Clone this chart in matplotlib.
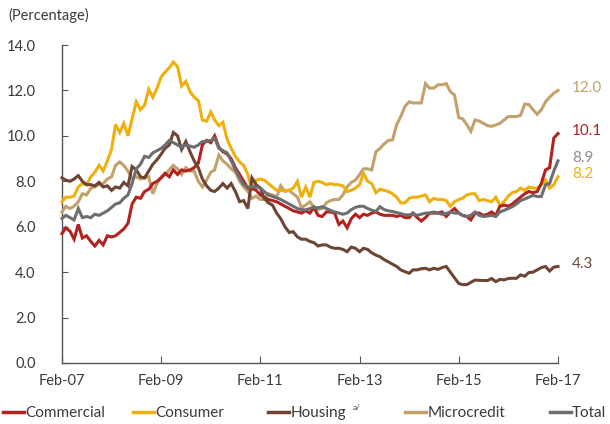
import pandas as pd
import matplotlib
matplotlib.use('Agg')
import matplotlib.pyplot as plt
import matplotlib.dates as mdates
from matplotlib.ticker import FixedLocator, FormatStrFormatter

plt.rcParams['font.family'] = ['Lato', 'DejaVu Sans']

# monthly series, Feb-07 .. Feb-17 (percentage)
dates = pd.date_range('2007-02-01', '2017-02-01', freq='MS')

commercial = [5.7, 5.95, 5.8, 5.45, 6.1, 5.5, 5.6, 5.35, 5.15, 5.4, 5.2, 5.6, 5.55, 5.6, 5.75, 5.9, 6.15, 7.0, 7.3, 7.25, 7.55, 7.65, 7.9, 8.0, 8.15,
              8.35, 8.2, 8.5, 8.3, 8.5, 8.45, 8.5, 8.6, 8.8, 9.6, 9.8, 9.7, 10.0, 9.5, 9.3, 9.2, 9.0, 8.6, 8.3, 8.0, 7.7, 7.7, 7.6, 7.4, 7.3,
              7.2, 7.15, 7.1, 7.0, 6.9, 6.8, 6.7, 6.65, 6.6, 6.7, 6.6, 6.85, 6.5, 6.45, 6.65, 6.65, 6.6, 6.1, 6.25, 5.95, 6.35, 6.55, 6.4, 6.55,
              6.5, 6.6, 6.65, 6.55, 6.5, 6.5, 6.5, 6.45, 6.5, 6.4, 6.4, 6.6, 6.4, 6.25, 6.4, 6.6, 6.6, 6.6, 6.65, 6.45, 6.65, 6.8,
              6.6, 6.5, 6.45, 6.3, 6.6, 6.6, 6.5, 6.55, 6.65, 6.5, 6.9, 6.95, 6.9, 7.0, 7.15, 7.3, 7.45, 7.55, 7.5, 7.55, 7.9, 8.5, 8.6, 9.9, 10.1]

consumer = [7.1, 7.3, 7.3, 7.35, 7.75, 7.9, 7.85, 8.2, 8.4, 8.7, 8.45, 8.9, 9.4, 10.5, 10.15, 10.55, 10.0, 10.75, 11.5, 11.15, 11.35, 12.05, 11.7, 12.1, 12.6,
            12.8, 13.0, 13.25, 13.05, 12.2, 12.4, 11.95, 11.7, 11.55, 10.7, 10.65, 11.05, 10.7, 10.45, 10.6, 9.85, 9.45, 9.1, 8.85, 8.7, 8.3, 7.6, 8.05, 8.1, 8.05,
            7.9, 7.75, 7.6, 7.6, 7.6, 7.6, 7.7, 8.0, 7.3, 7.75, 7.3, 7.95, 8.0, 7.95, 7.85, 7.9, 7.85, 7.85, 7.8, 7.55, 7.6, 7.7, 7.85, 8.35,
            8.0, 7.9, 7.5, 7.65, 7.6, 7.55, 7.45, 7.3, 7.05, 7.05, 7.25, 7.3, 7.3, 7.35, 7.4, 7.1, 7.25, 7.2, 7.2, 7.15, 6.9, 7.1, 7.2, 7.25,
            7.4, 7.45, 7.45, 7.15, 7.2, 7.15, 7.1, 7.3, 6.95, 7.1, 7.35, 7.5, 7.55, 7.7, 7.6, 7.75, 7.7, 7.7, 7.85, 8.05, 7.7, 7.85, 8.2]

housing = [8.15, 8.05, 8.0, 8.1, 8.25, 8.0, 7.85, 7.85, 7.8, 7.95, 7.75, 7.8, 7.6, 7.75, 7.7, 7.95, 7.8, 8.65, 8.5, 8.2, 8.15, 8.45, 8.75, 8.95, 9.2,
           9.45, 9.6, 10.15, 10.0, 9.4, 9.75, 9.3, 8.9, 8.6, 8.1, 7.8, 7.6, 7.55, 7.7, 7.9, 7.7, 7.9, 7.55, 7.1, 7.15, 6.8, 8.15, 7.85, 7.7,
           7.25, 7.05, 6.95, 6.6, 6.35, 6.0, 5.75, 5.78, 5.55, 5.45, 5.45, 5.35, 5.3, 5.15, 5.2, 5.2, 5.1, 5.05, 5.05, 5.0, 4.9, 5.1, 5.05, 4.9, 5.05,
           5.0, 4.85, 4.75, 4.68, 4.55, 4.45, 4.35, 4.25, 4.1, 4.02, 3.95, 4.1, 4.1, 4.15, 4.17, 4.1, 4.17, 4.12, 4.2, 4.25, 4.0, 3.75, 3.5, 3.45,
           3.45, 3.55, 3.65, 3.64, 3.63, 3.63, 3.72, 3.58, 3.68, 3.66, 3.72, 3.73, 3.73, 3.88, 3.82, 3.98, 4.0, 4.1, 4.2, 4.25, 4.05, 4.22, 4.25]

microcredit = [6.65, 6.9, 6.8, 6.9, 7.1, 7.45, 7.4, 7.7, 7.75, 7.85, 7.9, 8.1, 8.2, 8.7, 8.85, 8.7, 8.45, 8.15, 8.2, 8.1, 8.15, 8.2, 7.45, 7.9, 8.2,
               8.3, 8.5, 8.7, 8.55, 8.3, 8.6, 8.45, 8.45, 8.0, 7.75, 8.05, 8.4, 8.5, 9.15, 8.9, 8.75, 8.55, 8.4, 8.0, 7.75, 7.55, 7.25, 7.35, 7.2,
               7.2, 7.45, 7.4, 7.3, 7.8, 7.55, 7.6, 7.45, 7.3, 6.85, 6.95, 7.1, 6.85, 6.75, 6.8, 7.05, 7.15, 7.2, 7.2, 7.4, 7.75, 7.95,
               8.05, 8.3, 8.55, 8.55, 8.5, 9.3, 9.45, 9.65, 9.8, 9.82, 10.5, 10.85, 11.3, 11.5, 11.45, 11.45, 11.45, 12.3, 12.1, 12.1, 12.25, 12.25, 12.3, 11.95, 11.8,
               10.8, 10.75, 10.5, 10.2, 10.7, 10.65, 10.55, 10.45, 10.42, 10.48, 10.55, 10.7, 10.85, 10.85, 10.85, 10.9, 11.4, 11.38, 11.15, 10.95, 11.15, 11.5, 11.7, 11.88, 12.0]

total = [6.37, 6.5, 6.4, 6.3, 6.8, 6.4, 6.45, 6.4, 6.55, 6.5, 6.6, 6.7, 6.85, 7.0, 7.05, 7.25, 7.4, 7.9, 8.55, 8.75, 9.1, 9.05, 9.25, 9.35, 9.45,
         9.6, 9.8, 9.7, 9.6, 9.5, 9.6, 9.55, 9.5, 9.6, 9.75, 9.75, 9.8, 9.9, 9.45, 9.35, 9.25, 8.9, 8.5, 8.15, 7.85, 7.75, 7.75, 7.75, 7.7,
         7.55, 7.4, 7.33, 7.27, 7.2, 7.1, 7.0, 6.9, 6.8, 6.75, 6.74, 6.8, 6.85, 6.83, 6.88, 6.8, 6.72, 6.65, 6.6, 6.55, 6.6, 6.75, 6.85, 6.9, 6.9,
         6.8, 6.73, 6.67, 6.88, 6.75, 6.7, 6.67, 6.62, 6.58, 6.52, 6.52, 6.58, 6.5, 6.55, 6.6, 6.6, 6.65, 6.6, 6.55, 6.58, 6.65, 6.6, 6.6, 6.5,
         6.45, 6.5, 6.65, 6.5, 6.45, 6.47, 6.5, 6.45, 6.65, 6.72, 6.8, 6.88, 7.0, 7.15, 7.22, 7.3, 7.38, 7.33, 7.33, 7.85, 7.9, 8.45, 8.9]

end_labels = ['10.1', '8.2', '4.3', '12.0', '8.9']

df = pd.DataFrame({'Commercial': commercial, 'Consumer': consumer, 'Housing': housing,
                   'Microcredit': microcredit, 'Total': total}, index=dates)

colors = {'Commercial': '#B2231F', 'Consumer': '#EFB00F', 'Housing': '#6E4535',
          'Microcredit': '#C4A06C', 'Total': '#6D6E70'}
label_colors = {'Commercial': '#B2231F', 'Consumer': '#EFB00F', 'Housing': '#6E4535',
                'Microcredit': '#C4A06C', 'Total': '#8C8C8E'}
draw_order = ['Microcredit', 'Consumer', 'Commercial', 'Housing', 'Total']

fig = plt.figure(figsize=(6.1, 4.24), dpi=100)
ax = fig.add_axes([62 / 610, 1 - 363 / 424, (558 - 62) / 610, (363 - 45) / 424])

for name in draw_order:
    ax.plot(df.index, df[name], color=colors[name], lw=2.2, clip_on=False,
            solid_joinstyle='miter', zorder=3)

# value labels at the end of each line
for name, txt in zip(df.columns, end_labels):
    ax.annotate(txt, xy=(df.index[-1], df[name].iloc[-1]), xytext=(10, 2),
                textcoords='offset points', va='center', ha='left',
                color=label_colors[name], fontsize=11, annotation_clip=False)

ax.set_xlim(dates[0], dates[-1])
ax.set_ylim(0, 14)
ax.yaxis.set_major_locator(FixedLocator([0, 2, 4, 6, 8, 10, 12, 14]))
ax.yaxis.set_major_formatter(FormatStrFormatter('%.1f'))
ax.set_xticks(dates[::24])
ax.xaxis.set_major_formatter(mdates.DateFormatter('%b-%y'))

for side in ['top', 'right']:
    ax.spines[side].set_visible(False)
for side in ['left', 'bottom']:
    ax.spines[side].set_color('#555555')
    ax.spines[side].set_linewidth(1.0)
ax.tick_params(axis='y', direction='in', length=4, color='#555555', labelsize=10.5,
               labelcolor='#3a3a3a', pad=19)
ax.tick_params(axis='x', direction='in', length=5, color='#555555', labelsize=10.5,
               labelcolor='#3a3a3a', pad=8)

fig.text(8 / 610, 1 - 15 / 424, '(Percentage)', fontsize=10.5, color='#3a3a3a',
         va='center', ha='left')

# legend entries placed along the bottom
legend_x = [3, 133, 268, 405, 550]
for name, lx in zip(df.columns, legend_x):
    h, = ax.plot([], [], color=colors[name], lw=2.5)
    leg = fig.legend([h], [name], loc='center left', bbox_to_anchor=(lx / 610, 1 - 413 / 424),
                     frameon=False, fontsize=11, handlelength=1.4, handletextpad=0.05,
                     borderpad=0, borderaxespad=0)
    for t in leg.get_texts():
        t.set_color('#3a3a3a')
fig.text(353 / 610, 1 - 407 / 424, 'a/', fontsize=6, color='#3a3a3a', va='center', ha='left')

fig.savefig('out.png', dpi=100)
